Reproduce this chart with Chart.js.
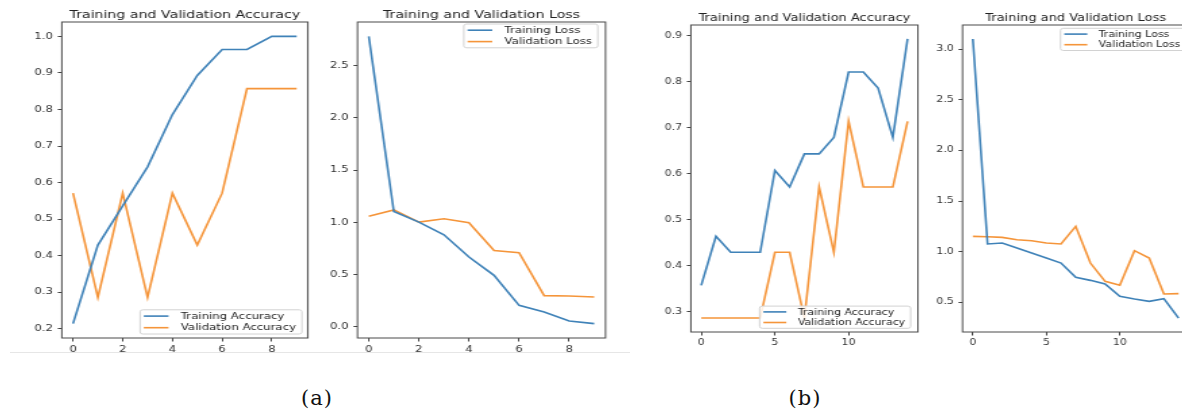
<!DOCTYPE html>
<html><head><meta charset="utf-8">
<script src="https://cdn.jsdelivr.net/npm/chart.js@4/dist/chart.umd.min.js"></script>
<style>
html,body{margin:0;padding:0;background:#fff;width:1182px;height:420px;overflow:hidden;position:relative}
canvas{position:absolute;top:0;transform-origin:0 0}
.cap{position:absolute;font-family:"DejaVu Serif";font-size:21px;color:#111;transform:translateX(-50%);top:386px;letter-spacing:1px}
.sep{position:absolute;left:10px;top:352px;width:620px;height:1px;background:#e6e6e6}
</style></head><body>
<div class="sep"></div>
<canvas id="c1"></canvas><canvas id="c2"></canvas><canvas id="c3"></canvas><canvas id="c4"></canvas>
<div class="cap" style="left:317px">(a)</div>
<div class="cap" style="left:805px">(b)</div>
<script>
// ---- data ----
const epochsA = [0,1,2,3,4,5,6,7,8,9];
const trainAccA = [0.214,0.429,0.536,0.643,0.786,0.893,0.964,0.964,1.0,1.0];
const valAccA   = [0.571,0.286,0.571,0.286,0.571,0.429,0.571,0.857,0.857,0.857];
const trainLossA = [2.78,1.105,1.003,0.882,0.669,0.494,0.207,0.143,0.057,0.032];
const valLossA   = [1.06,1.12,1.003,1.035,0.997,0.732,0.71,0.30,0.296,0.287];

const epochsB = [0,1,2,3,4,5,6,7,8,9,10,11,12,13,14];
const trainAccB = [0.357,0.464,0.429,0.429,0.429,0.607,0.571,0.643,0.643,0.679,0.821,0.821,0.786,0.679,0.893];
const valAccB   = [0.286,0.286,0.286,0.286,0.286,0.429,0.429,0.286,0.571,0.429,0.714,0.571,0.571,0.571,0.714];
const trainLossB = [3.10,1.076,1.086,1.036,0.987,0.937,0.888,0.747,0.717,0.681,0.559,0.533,0.510,0.536,0.345];
const valLossB   = [1.151,1.148,1.141,1.118,1.108,1.086,1.076,1.25,0.888,0.707,0.668,1.01,0.937,0.582,0.586];

const xTicksA = [0,2,4,6,8];
const xTicksB = [0,5,10];
const yTicksAccA = [0.2,0.3,0.4,0.5,0.6,0.7,0.8,0.9,1.0];
const yTicksLossA = [0.0,0.5,1.0,1.5,2.0,2.5];
const yTicksAccB = [0.3,0.4,0.5,0.6,0.7,0.8,0.9];
const yTicksLossB = [0.5,1.0,1.5,2.0,2.5,3.0];

const titleAcc = 'Training and Validation Accuracy';
const titleLoss = 'Training and Validation Loss';
const labelsAcc = ['Training Accuracy','Validation Accuracy'];
const labelsLoss = ['Training Loss','Validation Loss'];

// ---- style ----
const S = 1.35;               // horizontal stretch of the original figure
const BLUE = '#3f82b8', ORANGE = '#f5953a';
const FONT = 'DejaVu Sans';
const LW = 1.6;

function margins(xs, ys1, ys2) {
  const ys = ys1.concat(ys2);
  const xmin = Math.min(...xs), xmax = Math.max(...xs);
  const ymin = Math.min(...ys), ymax = Math.max(...ys);
  const dx = (xmax - xmin) * 0.05, dy = (ymax - ymin) * 0.05;
  return {xmin: xmin - dx, xmax: xmax + dx, ymin: ymin - dy, ymax: ymax + dy};
}

const framePlugin = {
  id: 'frame',
  afterDatasetsDraw(chart) {
    const a = chart.chartArea, ctx = chart.ctx;
    ctx.save();
    ctx.strokeStyle = '#4a4a4a';
    ctx.lineWidth = 1;
    ctx.strokeRect(a.left, a.top, a.right - a.left, a.bottom - a.top);
    ctx.restore();
  }
};

const legendPlugin = {
  id: 'mplLegend',
  afterDraw(chart, args, opts) {
    const ctx = chart.ctx, a = chart.chartArea;
    const f = opts.size;
    ctx.save();
    ctx.font = f + 'px "' + FONT + '"';
    const dsets = chart.data.datasets;
    const tw = Math.max(...dsets.map(d => ctx.measureText(d.label).width));
    const padL = 2.8, lineLen = 2.1 * f, gap = 1.05 * f, padR = 0.5 * f;
    const rowH = opts.rowH;
    const w = padL + lineLen + gap + tw + padR;
    const h = rowH * dsets.length + 1;
    const x0 = a.right - opts.right - w;
    const y0 = opts.corner === 'lr' ? a.bottom - opts.inset - h : a.top + opts.inset;
    ctx.fillStyle = 'rgba(255,255,255,0.85)';
    ctx.strokeStyle = '#d2d2d2';
    ctx.lineWidth = 1;
    ctx.beginPath();
    if (ctx.roundRect) ctx.roundRect(x0, y0, w, h, 2); else ctx.rect(x0, y0, w, h);
    ctx.fill(); ctx.stroke();
    ctx.textBaseline = 'middle';
    ctx.textAlign = 'left';
    dsets.forEach((d, i) => {
      const cy = y0 + 0.5 + rowH * (i + 0.5);
      ctx.strokeStyle = d.borderColor;
      ctx.lineWidth = LW;
      ctx.beginPath();
      ctx.moveTo(x0 + padL, cy);
      ctx.lineTo(x0 + padL + lineLen, cy);
      ctx.stroke();
      ctx.fillStyle = '#222';
      ctx.fillText(d.label, x0 + padL + lineLen + gap, cy + 0.5);
    });
    ctx.restore();
  }
};

const YW = 38;
function makeChart(id, c) {
  const cv = document.getElementById(id);
  const plotW = c.plotWdisp / S;
  const W = Math.ceil(2 * YW + plotW);
  const extra = (W - (2 * YW + plotW)) / 2;
  cv.width = W; cv.height = c.H;
  cv.style.width = W + 'px'; cv.style.height = c.H + 'px';
  cv.style.left = (c.plotLeft - (extra + YW) * S) + 'px';
  cv.style.transform = 'scaleX(' + S + ')';
  const m = margins(c.x, c.y1, c.y2);
  const mk = (label, ys, color) => ({
    label, data: c.x.map((x, i) => ({x, y: ys[i]})),
    borderColor: color, backgroundColor: color, borderWidth: LW,
    pointRadius: 0, tension: 0, fill: false
  });
  const tickFont = {family: FONT, size: c.tickSize};
  new Chart(cv, {
    type: 'line',
    data: {datasets: [mk(c.labels[0], c.y1, BLUE), mk(c.labels[1], c.y2, ORANGE)]},
    options: {
      responsive: false, animation: false, devicePixelRatio: 1,
      layout: {padding: {left: extra, right: extra, top: 0, bottom: 0}},
      plugins: {
        legend: {display: false}, tooltip: {enabled: false},
        title: {display: true, text: c.title, color: '#222',
          font: {family: FONT, size: c.titleSize, weight: 'normal', lineHeight: 1.2},
          padding: {top: c.titleTop, bottom: c.titleBottom}},
        mplLegend: c.legend
      },
      scales: {
        x: {type: 'linear', min: m.xmin, max: m.xmax,
          afterBuildTicks: s => { s.ticks = c.xTicks.map(v => ({value: v})); },
          afterFit: s => { s.height = c.H - c.plotBottom; },
          grid: {display: true, drawOnChartArea: false, drawTicks: true, tickLength: 3.5, color: '#444', tickColor: '#444'},
          border: {display: false},
          ticks: {font: tickFont, color: '#333', padding: 3, maxRotation: 0, callback: v => String(v)}},
        y: {type: 'linear', min: m.ymin, max: m.ymax,
          afterBuildTicks: s => { s.ticks = c.yTicks.map(v => ({value: v})); },
          afterFit: s => { s.width = YW; },
          grid: {display: true, drawOnChartArea: false, drawTicks: true, tickLength: 3, color: '#444', tickColor: '#444'},
          border: {display: false},
          ticks: {font: tickFont, color: '#333', padding: 3.5, callback: v => v.toFixed(1)}},
        // empty spacer on the right so the title centres over the plot area
        yR: {type: 'linear', position: 'right', min: 0, max: 1,
          afterFit: s => { s.width = YW; },
          grid: {display: false}, border: {display: false}, ticks: {display: false}}
      }
    },
    plugins: [framePlugin, legendPlugin]
  });
}

// panel (a)
makeChart('c1', {x: epochsA, y1: trainAccA, y2: valAccA, labels: labelsAcc, title: titleAcc,
  xTicks: xTicksA, yTicks: yTicksAccA, H: 368, plotBottom: 338, plotLeft: 62, plotWdisp: 246,
  titleSize: 10.5, titleTop: 8.7, titleBottom: 0.7, tickSize: 8.7,
  legend: {size: 8.7, rowH: 11.6, corner: 'lr', right: 4.4, inset: 4}});
makeChart('c2', {x: epochsA, y1: trainLossA, y2: valLossA, labels: labelsLoss, title: titleLoss,
  xTicks: xTicksA, yTicks: yTicksLossA, H: 368, plotBottom: 338, plotLeft: 357, plotWdisp: 248,
  titleSize: 10.5, titleTop: 8.7, titleBottom: 0.7, tickSize: 8.7,
  legend: {size: 8.7, rowH: 11.4, corner: 'ur', right: 5.7, inset: 2}});
// panel (b)
makeChart('c3', {x: epochsB, y1: trainAccB, y2: valAccB, labels: labelsAcc, title: titleAcc,
  xTicks: xTicksB, yTicks: yTicksAccB, H: 362, plotBottom: 332, plotLeft: 691, plotWdisp: 227,
  titleSize: 9.65, titleTop: 12.5, titleBottom: 0.92, tickSize: 8.1,
  legend: {size: 8.1, rowH: 10.6, corner: 'lr', right: 5.4, inset: 3.7}});
makeChart('c4', {x: epochsB, y1: trainLossB, y2: valLossB, labels: labelsLoss, title: titleLoss,
  xTicks: xTicksB, yTicks: yTicksLossB, H: 362, plotBottom: 332, plotLeft: 963, plotWdisp: 226.3,
  titleSize: 9.65, titleTop: 12.5, titleBottom: 0.92, tickSize: 8.1,
  legend: {size: 8.1, rowH: 10.6, corner: 'ur', right: 2.4, inset: 3.3}});
</script>
</body></html>
